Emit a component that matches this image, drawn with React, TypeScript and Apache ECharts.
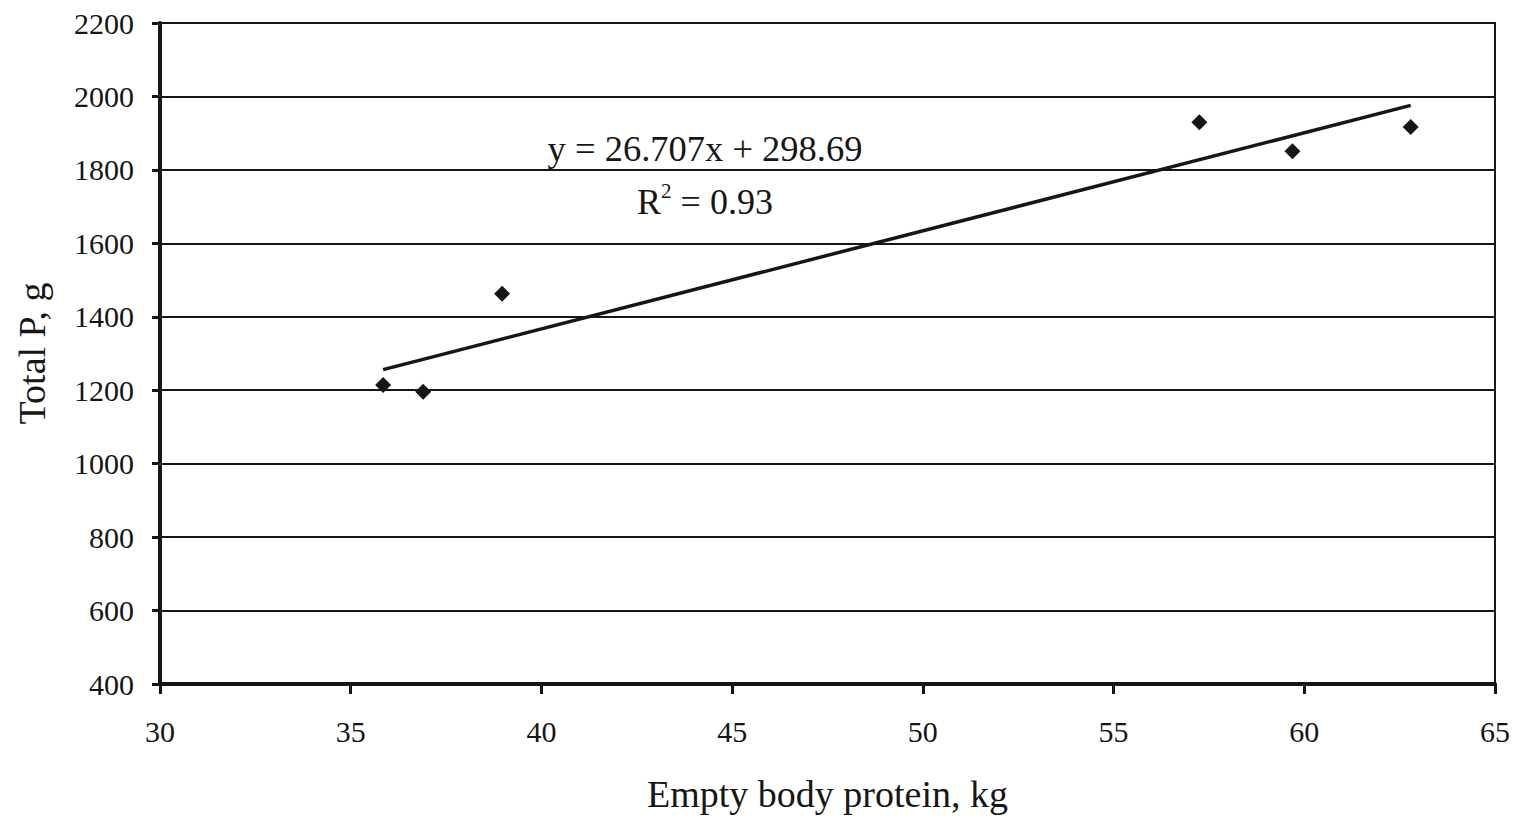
import React, { useEffect, useRef } from "react";
import * as echarts from "echarts";

// Empty body protein (kg) vs. total phosphorus (g)
const proteinKg = [35.85, 36.9, 38.97, 57.25, 59.69, 62.79];
const totalPg = [1214, 1196, 1463, 1930, 1851, 1917];

// Fitted linear regression, as stated on the chart
const slope = 26.707;
const intercept = 298.69;
const rSquared = "0.93";

const xTicks = { min: 30, max: 65, interval: 5 };
const yTicks = { min: 400, max: 2200, interval: 200 };

const FONT = "Liberation Serif";
const INK = "#161616";

export default function App() {
  const ref = useRef<HTMLDivElement>(null);

  useEffect(() => {
    if (!ref.current) return;
    const chart = echarts.init(ref.current, undefined, { renderer: "svg" });

    const xMin = Math.min(...proteinKg);
    const xMax = Math.max(...proteinKg);
    const trend = [xMin, xMax].map((x) => [x, slope * x + intercept]);
    const plain = (v: number) => String(v);

    chart.setOption({
      animation: false,
      backgroundColor: "#ffffff",
      textStyle: { fontFamily: FONT, color: INK },
      grid: {
        left: 160,
        right: 21,
        top: 23,
        bottom: 137,
        show: true,
        borderColor: INK,
        borderWidth: 2,
      },
      xAxis: {
        type: "value",
        min: xTicks.min,
        max: xTicks.max,
        interval: xTicks.interval,
        name: "Empty body protein, kg",
        nameLocation: "middle",
        nameGap: 91,
        nameTextStyle: { fontFamily: FONT, fontSize: 38, color: INK },
        axisLine: { show: true, lineStyle: { color: INK, width: 4 } },
        axisTick: { show: true, length: 10, lineStyle: { color: INK, width: 3 } },
        axisLabel: { fontFamily: FONT, fontSize: 30, color: INK, margin: 32, formatter: plain },
        splitLine: { show: false },
      },
      yAxis: {
        type: "value",
        min: yTicks.min,
        max: yTicks.max,
        interval: yTicks.interval,
        name: "Total P, g",
        nameLocation: "middle",
        nameRotate: 90,
        nameGap: 109,
        nameTextStyle: { fontFamily: FONT, fontSize: 38, color: INK },
        axisLine: { show: true, lineStyle: { color: INK, width: 4 } },
        axisTick: { show: true, length: 8, lineStyle: { color: INK, width: 3 } },
        axisLabel: { fontFamily: FONT, fontSize: 30, color: INK, margin: 26, formatter: plain },
        splitLine: { show: true, lineStyle: { color: INK, width: 2 } },
      },
      graphic: [
        {
          type: "text",
          x: 705,
          y: 148,
          style: {
            text: `y = ${slope}x + ${intercept}`,
            fontFamily: FONT,
            fontSize: 36.5,
            fill: INK,
            textAlign: "center",
            textVerticalAlign: "middle",
          },
        },
        {
          type: "text",
          x: 705,
          y: 200,
          style: {
            text: `{a|R}{s|2}{a| = ${rSquared}}`,
            fontFamily: FONT,
            fontSize: 36,
            fill: INK,
            textAlign: "center",
            textVerticalAlign: "middle",
            rich: {
              a: { fontFamily: FONT, fontSize: 36, fill: INK, verticalAlign: "bottom", lineHeight: 40 },
              s: { fontFamily: FONT, fontSize: 21, fill: INK, verticalAlign: "top", lineHeight: 40 },
            },
          },
        },
      ],
      series: [
        {
          type: "line",
          data: trend,
          symbol: "none",
          lineStyle: { color: INK, width: 3.5 },
          z: 2,
        },
        {
          type: "scatter",
          data: proteinKg.map((x, i) => [x, totalPg[i]]),
          symbol: "diamond",
          symbolSize: 16,
          itemStyle: { color: INK, opacity: 1 },
          z: 3,
        },
      ],
    });

    return () => chart.dispose();
  }, []);

  return (
    <div
      ref={ref}
      style={{ position: "fixed", left: 0, top: 0, width: 1516, height: 821 }}
    />
  );
}
